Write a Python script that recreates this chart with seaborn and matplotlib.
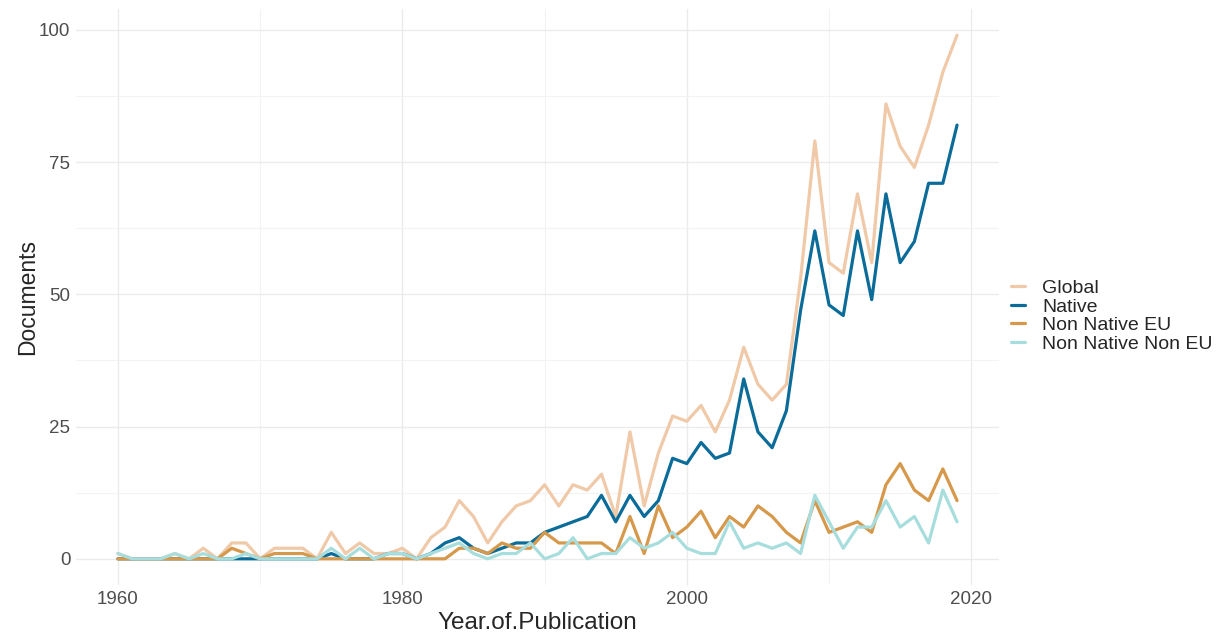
import numpy as np
import pandas as pd
import seaborn as sns
import matplotlib.pyplot as plt
from matplotlib.ticker import MultipleLocator

years = list(range(1960, 2020))

global_docs = [1, 0, 0, 0, 1, 0, 2, 0, 3, 3,
               0, 2, 2, 2, 0, 5, 1, 3, 1, 1,
               2, 0, 4, 6, 11, 8, 3, 7, 10, 11,
               14, 10, 14, 13, 16, 8, 24, 10, 20, 27,
               26, 29, 24, 30, 40, 33, 30, 33, 53, 79,
               56, 54, 69, 56, 86, 78, 74, 82, 92, 99]

native = [0, 0, 0, 0, 0, 0, 0, 0, 0, 0,
          0, 0, 0, 0, 0, 1, 0, 0, 0, 1,
          1, 0, 1, 3, 4, 2, 1, 2, 3, 3,
          5, 6, 7, 8, 12, 7, 12, 8, 11, 19,
          18, 22, 19, 20, 34, 24, 21, 28, 47, 62,
          48, 46, 62, 49, 69, 56, 60, 71, 71, 82]

non_native_eu = [0, 0, 0, 0, 0, 0, 0, 0, 2, 1,
                 0, 1, 1, 1, 0, 0, 0, 0, 0, 0,
                 0, 0, 0, 0, 2, 2, 1, 3, 2, 2,
                 5, 3, 3, 3, 3, 1, 8, 1, 10, 4,
                 6, 9, 4, 8, 6, 10, 8, 5, 3, 11,
                 5, 6, 7, 5, 14, 18, 13, 11, 17, 11]

non_native_non_eu = [1, 0, 0, 0, 1, 0, 1, 0, 0, 1,
                     0, 0, 0, 0, 0, 2, 0, 2, 0, 1,
                     1, 0, 1, 2, 3, 1, 0, 1, 1, 3,
                     0, 1, 4, 0, 1, 1, 4, 2, 3, 5,
                     2, 1, 1, 7, 2, 3, 2, 3, 1, 12,
                     7, 2, 6, 6, 11, 6, 8, 3, 13, 7]

groups = ["Global", "Native", "Non Native EU", "Non Native Non EU"]
colors = ["#EFC9A8", "#0B6C99", "#D6984A", "#A8DDDD"]

df = pd.concat([
    pd.DataFrame({"Year.of.Publication": years, "Documents": vals, "Type": name})
    for name, vals in zip(groups, [global_docs, native, non_native_eu, non_native_non_eu])
])

sns.set_style("white")
plt.rcParams["font.family"] = ["Liberation Sans", "DejaVu Sans"]

fig = plt.figure(figsize=(12.26, 6.33), dpi=100)
ax = fig.add_axes([76 / 1226, 1 - 585 / 633, (999 - 76) / 1226, (585 - 9) / 633])

sns.lineplot(data=df, x="Year.of.Publication", y="Documents", hue="Type",
             hue_order=groups, palette=colors, linewidth=2.3, ax=ax)

ax.set_xlim(1957.05, 2021.95)
ax.set_ylim(-4.95, 103.95)
ax.xaxis.set_major_locator(MultipleLocator(20))
ax.xaxis.set_minor_locator(MultipleLocator(10))
ax.yaxis.set_major_locator(MultipleLocator(25))
ax.yaxis.set_minor_locator(MultipleLocator(12.5))
ax.grid(which="major", color="#EBEBEB", linewidth=1.0)
ax.grid(which="minor", color="#F3F3F3", linewidth=0.8)
ax.set_axisbelow(True)
for s in ax.spines.values():
    s.set_visible(False)
ax.tick_params(which="both", length=0, labelsize=13.5, labelcolor="#4D4D4D", pad=4)
ax.set_xlabel("Year.of.Publication", fontsize=17.5, labelpad=3)
ax.set_ylabel("Documents", fontsize=16.5, labelpad=0)

leg = ax.legend(loc="center left", bbox_to_anchor=(0.994, 0.467), frameon=False,
                fontsize=14, handlelength=0.7, handletextpad=0.9, labelspacing=0.05)
for line in leg.get_lines():
    line.set_linewidth(2.3)

fig.savefig("out.png", dpi=100)
